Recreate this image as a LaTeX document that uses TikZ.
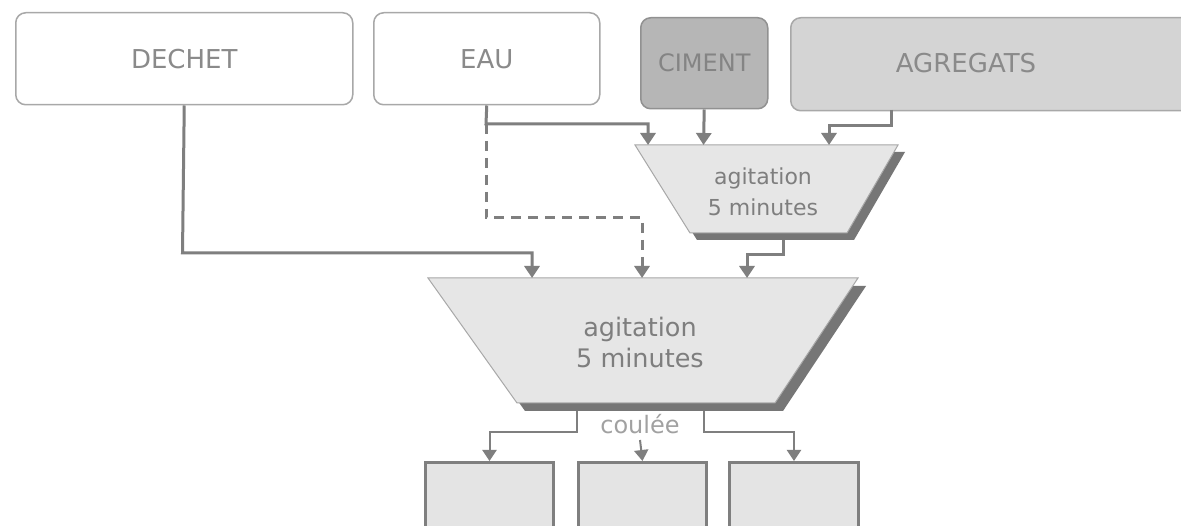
\documentclass[tikz,border=0pt]{standalone}
\usepackage{fontspec}
\setmainfont{DejaVu Sans}
\usetikzlibrary{arrows.meta}
\definecolor{txt}{HTML}{8A8A8A}
\definecolor{ln}{HTML}{7F7F7F}
\definecolor{bd}{HTML}{A8A8A8}
\definecolor{cimfill}{HTML}{B6B6B6}
\definecolor{agrfill}{HTML}{D4D4D4}
\definecolor{mixfill}{HTML}{E6E6E6}
\definecolor{shd}{HTML}{767676}
\definecolor{moldfill}{HTML}{E4E4E4}
\begin{document}
\begin{tikzpicture}[x=1pt,y=-1pt,
  inbox/.style={draw=bd, line width=1.5pt, rounded corners=10pt, inner sep=0pt, anchor=north west,
    font=\fontsize{26}{30}\selectfont, text=txt},
  flow/.style={draw=ln, line width=3pt, -{Triangle[width=15pt,length=12pt]}},
  thinflow/.style={draw=ln, line width=2pt, -{Triangle[width=14pt,length=11pt]}},
  trap/.style={fill=mixfill, draw=bd, line width=1pt},
  trapshadow/.style={fill=shd},
  mixtext/.style={align=center, text=txt!110, font=\fontsize{22}{31}\selectfont},
  moldbox/.style={fill=moldfill, draw=ln, line width=3pt, anchor=north west, inner sep=0pt}
]
\useasboundingbox (0,0) rectangle (1181,526);
\clip (0,0) rectangle (1181,526);
\fill[white] (0,0) rectangle (1181,526);

% input boxes
\node[inbox, fill=white, minimum width=337pt, minimum height=92pt] (dechet) at (15,12) {DECHET};
\node[inbox, fill=white, minimum width=226pt, minimum height=92pt] (eau) at (373,12) {EAU};
\node[inbox, fill=cimfill, draw=shd!80, text=shd!90, font=\fontsize{24}{28}\selectfont,
  minimum width=127pt, minimum height=91pt] (ciment) at (640,17) {CIMENT};
\node[inbox, fill=agrfill, minimum width=420pt, minimum height=93pt] (agr) at (790,17) {};
\node[text=txt, font=\fontsize{26}{30}\selectfont] (agrlabel) at (966,63) {AGREGATS};

% small mixer
\fill[trapshadow] (642,152) -- (905,152) -- (854,240) -- (697,240) -- cycle;
\draw[trap] (635,145) -- (898,145) -- (847,233) -- (690,233) -- cycle;
\node[mixtext] (mix1) at (763,192) {agitation\\5 minutes};

% big mixer
\fill[trapshadow] (436,286) -- (866,286) -- (783,411) -- (525,411) -- cycle;
\draw[trap] (428,278) -- (858,278) -- (775,403) -- (517,403) -- cycle;
\node[mixtext, font=\fontsize{25.5}{31}\selectfont] (mix2) at (640,342) {agitation\\5 minutes};

% moulds
\node[moldbox, minimum width=128pt, minimum height=100pt] (m1) at (424,461) {};
\node[moldbox, minimum width=128pt, minimum height=100pt] (m2) at (577,461) {};
\node[moldbox, minimum width=129pt, minimum height=100pt] (m3) at (728,461) {};

\node[text=txt!80, font=\fontsize{24}{28}\selectfont] (coulee) at (640,424) {coulée};

% coordinates
\coordinate (s1in1) at (648,145);
\coordinate (s1in2) at (703.5,145);
\coordinate (s1in3) at (829,145);
\coordinate (s1out) at (783,240);
\coordinate (b1) at (532,278);
\coordinate (b2) at (642,278);
\coordinate (b3) at (747,278);
\coordinate (eaujoin) at (486,124);
\coordinate (agrout) at (891,110);
\coordinate (o1) at (577,411);
\coordinate (o2) at (704,411);
\coordinate (cdown) at (640,440);

% connectors
\draw[flow] (dechet.south) -- (182.5,253) -- (532,253) -- (b1);
\draw[flow] (eau.south) -- (eaujoin) -- (648,124) -- (s1in1);
\draw[flow, dash pattern=on 10pt off 7pt] (eaujoin) -- (486,218) -- (642,218) -- (b2);
\draw[flow] (ciment.south) -- (s1in2);
\draw[flow] (agrout) -- (891,126) -- (829,126) -- (s1in3);
\draw[flow] (s1out) -- (783,255) -- (747,255) -- (b3);

\draw[thinflow] (o1) -- (577,432) -- (m1.north |- 0,432) -- (m1.north);
\draw[thinflow] (o2) -- (704,432) -- (m3.north |- 0,432) -- (m3.north);
\draw[thinflow] (cdown) -- (m2.north);
\end{tikzpicture}
\end{document}
